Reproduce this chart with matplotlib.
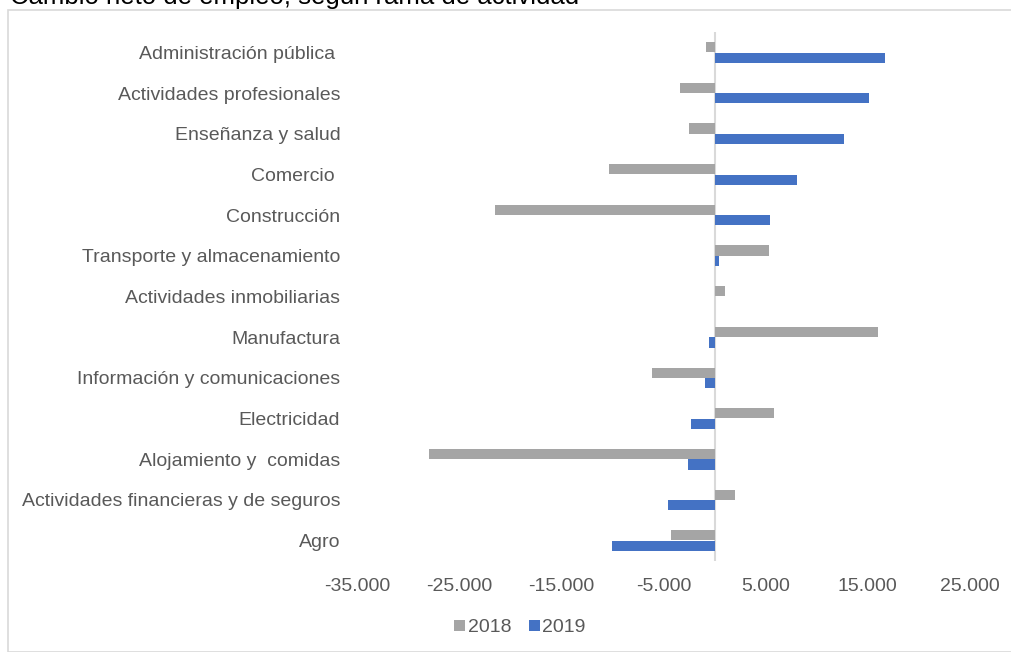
import matplotlib
matplotlib.use("Agg")
import matplotlib.pyplot as plt
from matplotlib.patches import Rectangle
from matplotlib.ticker import FuncFormatter

plt.rcParams["font.family"] = ["Liberation Sans", "DejaVu Sans"]

# Datos
categorias = [
    "Administración pública ",
    "Actividades profesionales",
    "Enseñanza y salud",
    "Comercio ",
    "Construcción",
    "Transporte y almacenamiento",
    "Actividades inmobiliarias",
    "Manufactura",
    "Información y comunicaciones",
    "Electricidad",
    "Alojamiento y  comidas",
    "Actividades financieras y de seguros",
    "Agro",
]
v2018 = [-800, -3400, -2500, -10300, -21500, 5300, 1000, 16000, -6100, 5800, -28000, 2000, -4300]
v2019 = [16700, 15100, 12700, 8100, 5400, 400, 0, -500, -900, -2300, -2600, -4600, -10000]
ticks_x = [-35000, -25000, -15000, -5000, 5000, 15000, 25000]

GRIS = "#A5A5A5"
AZUL = "#4472C4"
TXT = "#595959"

fig = plt.figure(figsize=(10.11, 6.52), dpi=100)

# marco del grafico
fig.patches.append(Rectangle((8 / 1011, 0), 1.2, 1 - 10 / 652, transform=fig.transFigure,
                             fill=False, edgecolor="#D9D9D9", lw=1.2))
# titulo (cortado arriba, como en el original)
fig.text(10 / 1011, 1 - 4 / 652, "Cambio neto de empleo, según rama de actividad",
         fontsize=18.5, color="black", va="baseline", ha="left")

ax = fig.add_axes([357 / 1011, 1 - 561 / 652, 613 / 1011, 529 / 652])

y = list(range(len(categorias)))
h = 0.25
ax.barh([i - 0.13 for i in y], v2018, height=h, color=GRIS, label="2018")
ax.barh([i + 0.13 for i in y], v2019, height=h, color=AZUL, label="2019")

ax.set_xlim(-35000, 25000)
ax.set_ylim(12.5, -0.5)
ax.axvline(0, color="#D9D9D9", lw=1.5, zorder=0)

for s in ax.spines.values():
    s.set_visible(False)

ax.set_yticks(y)
ax.set_yticklabels(categorias)
ax.set_xticks(ticks_x)
ax.xaxis.set_major_formatter(FuncFormatter(lambda v, p: f"{int(v):,}".replace(",", ".")))
ax.tick_params(axis="both", length=0, labelsize=14, labelcolor=TXT)
ax.tick_params(axis="y", pad=12)
ax.tick_params(axis="x", pad=12)

leg = fig.legend(loc="center", bbox_to_anchor=(520 / 1011, 1 - 628 / 652), ncol=2,
                 frameon=False, fontsize=14, handlelength=0.55, handleheight=0.55,
                 handletextpad=0.15, columnspacing=0.9)
for t in leg.get_texts():
    t.set_color(TXT)

fig.savefig("out.png", dpi=100)
